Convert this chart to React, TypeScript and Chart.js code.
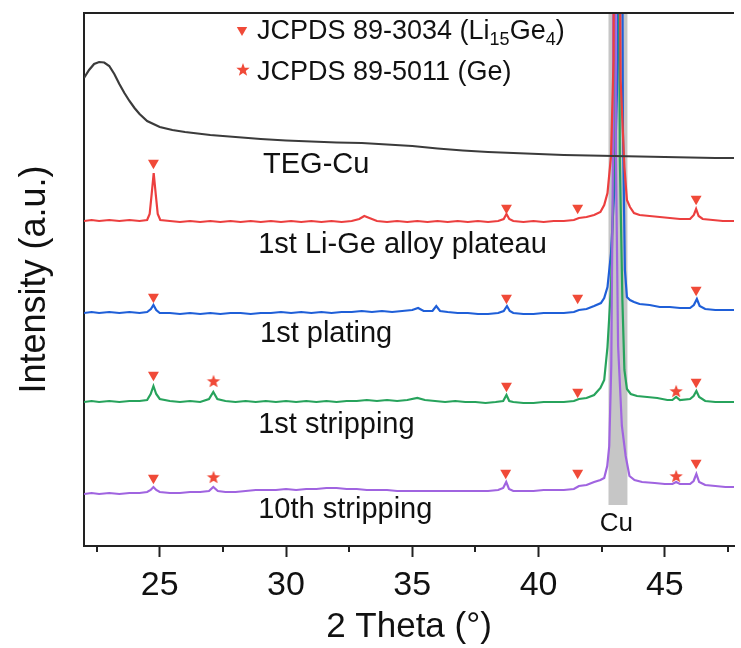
import React, { useEffect, useRef } from 'react';
import { Chart, registerables } from 'chart.js';

Chart.register(...registerables);

const FONT = "'Liberation Sans', Arial, Helvetica, sans-serif";

const X_MIN = 22;
const X_MAX = 47.74;
const Y_MIN = 0;
const Y_MAX = 533;
const MAJOR_TICKS = [25, 30, 35, 40, 45];
const MINOR_TICKS = [22.5, 27.5, 32.5, 37.5, 42.5, 47.5];

// Cu reference band (2θ range) and the intensity where it ends
const CU_BAND = [42.77, 43.52];
const CU_BAND_BASE = 41;

// [2θ, intensity]
const tegCu = [
  [22.0, 468], [22.2, 476], [22.4, 482], [22.6, 484], [22.8, 483.5], [23.0, 480], [23.2, 472], [23.4, 462],
  [23.6, 453], [23.8, 445], [24.0, 438], [24.2, 432], [24.5, 425], [25.0, 419], [25.5, 416], [26, 414],
  [27, 411], [28, 409], [29, 407], [30, 405.5], [31, 404.5], [32, 403.5], [33, 403], [34, 401.5], [35, 400],
  [36, 397.5], [37, 395.5], [38, 394], [39, 393], [40, 392], [41, 391], [42, 390.5], [43, 390], [44, 389.5],
  [45, 389], [46, 388.5], [47, 388], [47.74, 388],
];

const liGePlateau = [
  [22.0, 325], [22.3, 326], [22.6, 325], [23.0, 326], [23.4, 325], [23.8, 326], [24.2, 325], [24.5, 326],
  [24.6, 332], [24.68, 352], [24.76, 373], [24.84, 352], [24.92, 332], [25.02, 326], [25.4, 325], [25.8, 324],
  [26.2, 325], [26.6, 324], [27.0, 325], [27.4, 324], [27.8, 325], [28.2, 324], [28.6, 325], [29.0, 324],
  [29.4, 325], [29.8, 324], [30.2, 325], [30.6, 324], [31.0, 325], [31.4, 324], [31.8, 325], [32.2, 324],
  [32.6, 325], [32.9, 327], [33.1, 330], [33.3, 328], [33.6, 325], [34.0, 324], [34.4, 325], [34.8, 324],
  [35.2, 325], [35.6, 324], [36.0, 325], [36.4, 324], [36.8, 325], [37.2, 324], [37.6, 325], [38.0, 324],
  [38.4, 325], [38.62, 327], [38.73, 332], [38.84, 327], [39.0, 325], [39.4, 324], [39.8, 325], [40.2, 324],
  [40.6, 325], [41.0, 325], [41.4, 326], [41.6, 328], [41.9, 329], [42.2, 331], [42.45, 334], [42.6, 341],
  [42.73, 353], [42.87, 390], [42.97, 486], [43.05, 1200], [43.25, 466], [43.4, 379], [43.5, 346],
  [43.62, 339], [43.78, 333], [44.0, 331], [44.4, 330], [44.8, 329], [45.2, 328], [45.6, 327], [46.0, 327],
  [46.15, 331], [46.24, 337], [46.34, 330], [46.5, 327], [46.9, 326], [47.3, 325], [47.74, 325],
];

const plating1 = [
  [22.0, 233], [22.3, 234], [22.6, 233], [23.0, 234], [23.4, 233], [23.8, 234], [24.2, 233], [24.5, 234],
  [24.65, 237], [24.75, 241], [24.86, 236], [25.0, 233], [25.4, 233], [25.8, 232], [26.2, 233], [26.6, 232],
  [27.0, 233], [27.4, 232], [27.8, 233], [28.2, 233], [28.6, 232], [29.0, 233], [29.4, 233], [29.8, 234],
  [30.2, 233], [30.6, 234], [31.0, 233], [31.4, 234], [31.8, 233], [32.2, 234], [32.6, 234], [33.0, 235],
  [33.4, 234], [33.8, 235], [34.2, 234], [34.6, 235], [35.0, 236], [35.23, 238], [35.45, 235], [35.8, 235],
  [35.95, 240], [36.1, 235], [36.4, 234], [36.8, 233], [37.2, 233], [37.6, 232], [38.0, 232], [38.4, 233],
  [38.62, 235], [38.75, 240], [38.86, 235], [39.0, 233], [39.4, 232], [39.8, 232], [40.2, 233], [40.6, 233],
  [41.0, 233], [41.4, 234], [41.6, 236], [41.9, 237], [42.2, 240], [42.47, 243], [42.6, 248], [42.73, 259],
  [42.87, 293], [43.0, 356], [43.14, 486], [43.25, 1200], [43.34, 420], [43.42, 276], [43.5, 249],
  [43.62, 246], [43.78, 244], [44.0, 242], [44.4, 241], [44.8, 239], [45.2, 239], [45.6, 238], [46.0, 238],
  [46.15, 241], [46.27, 247], [46.38, 240], [46.6, 237], [47.0, 236], [47.4, 236], [47.74, 236],
];

const stripping1 = [
  [22.0, 144], [22.3, 145], [22.6, 144], [23.0, 145], [23.4, 144], [23.8, 145], [24.2, 145], [24.5, 146],
  [24.64, 152], [24.75, 160], [24.86, 152], [25.0, 147], [25.4, 145], [25.8, 144], [26.2, 145], [26.6, 144],
  [26.95, 147], [27.12, 154], [27.28, 147], [27.6, 145], [28.0, 144], [28.4, 145], [28.8, 144], [29.2, 145],
  [29.6, 144], [30.0, 145], [30.4, 144], [30.8, 145], [31.2, 144], [31.6, 145], [32.0, 144], [32.4, 145],
  [32.8, 145], [33.2, 146], [33.6, 145], [34.0, 146], [34.4, 145], [34.8, 146], [35.2, 148], [35.5, 146],
  [35.9, 145], [36.3, 144], [36.7, 145], [37.1, 144], [37.5, 144], [37.9, 143], [38.3, 144], [38.6, 145],
  [38.73, 151], [38.84, 145], [39.0, 144], [39.4, 143], [39.8, 143], [40.2, 144], [40.6, 144], [41.0, 144],
  [41.4, 145], [41.6, 147], [41.9, 148], [42.2, 151], [42.45, 158], [42.6, 166], [42.73, 199], [42.87, 259],
  [42.97, 366], [43.1, 1200], [43.22, 386], [43.32, 246], [43.4, 176], [43.5, 157], [43.65, 152],
  [43.9, 150], [44.3, 149], [44.7, 148], [45.1, 146], [45.3, 146], [45.45, 149], [45.6, 146], [46.0, 147],
  [46.14, 150], [46.25, 155], [46.36, 149], [46.6, 145], [47.0, 144], [47.4, 144], [47.74, 144],
];

const stripping10 = [
  [22.0, 52], [22.3, 53], [22.6, 52], [23.0, 53], [23.4, 52], [23.8, 53], [24.2, 53], [24.5, 54],
  [24.64, 56], [24.75, 59], [24.86, 56], [25.0, 54], [25.4, 53], [25.8, 53], [26.2, 54], [26.6, 54],
  [26.95, 55], [27.12, 59], [27.3, 55], [27.6, 54], [28.0, 54], [28.4, 55], [28.8, 56], [29.2, 56],
  [29.6, 56], [30.0, 57], [30.4, 56], [30.8, 57], [31.2, 57], [31.6, 58], [32.0, 58], [32.4, 57],
  [32.8, 57], [33.2, 56], [33.6, 56], [34.0, 56], [34.4, 55], [34.8, 55], [35.2, 55], [35.6, 55],
  [36.0, 55], [36.4, 55], [36.8, 55], [37.2, 55], [37.6, 55], [38.0, 55], [38.4, 56], [38.6, 58],
  [38.72, 64], [38.83, 57], [39.0, 55], [39.4, 55], [39.8, 55], [40.2, 56], [40.6, 56], [41.0, 56],
  [41.4, 57], [41.6, 60], [41.9, 61], [42.2, 64], [42.45, 66], [42.6, 68], [42.72, 80], [42.8, 100],
  [42.88, 180], [42.95, 400], [43.0, 1200], [43.06, 400], [43.15, 200], [43.3, 120], [43.45, 90],
  [43.6, 70], [43.8, 66], [44.1, 64], [44.6, 63], [45.0, 62], [45.3, 62], [45.45, 64], [45.6, 62],
  [46.0, 62], [46.14, 65], [46.25, 72], [46.36, 64], [46.6, 61], [47.0, 60], [47.4, 59], [47.74, 59],
];

// reflection markers [2θ, intensity]
const li15ge4Marks = [
  [24.75, 383], [38.73, 338], [41.55, 338], [46.24, 347],
  [24.75, 249], [38.73, 248], [41.55, 248], [46.24, 256],
  [24.75, 171], [38.73, 160], [41.55, 154], [46.24, 164],
  [24.75, 68], [38.7, 73], [41.55, 73], [46.24, 83],
];
const geMarks = [
  [27.13, 165], [45.45, 155],
  [27.13, 69], [45.45, 70],
];

// curve labels: [text, 2θ (left edge), intensity]
const CURVE_LABELS: [string, number, number][] = [
  ['TEG-Cu', 29.09, 381],
  ['1st Li-Ge alloy plateau', 28.9, 301],
  ['1st plating', 28.97, 212],
  ['1st stripping', 28.9, 121],
  ['10th stripping', 28.9, 36],
];
const CU_LABEL: [string, number, number] = ['Cu', 43.08, 22];

const LEGEND_1 = ['JCPDS 89-3034 (Li', '15', 'Ge', '4', ')'];
const LEGEND_2 = 'JCPDS 89-5011 (Ge)';

const COLORS = {
  black: '#3b3b3b',
  red: '#ec3f3f',
  blue: '#1f5fd8',
  green: '#27a35c',
  purple: '#a064e0',
  mark: '#f04a38',
  band: '#c6c6c6',
  axis: '#222222',
  text: '#111111',
};

const toXY = (arr: number[][]) => arr.map(([x, y]) => ({ x, y }));

function starPath(ctx: CanvasRenderingContext2D, cx: number, cy: number, ro: number, ri: number) {
  ctx.beginPath();
  for (let i = 0; i < 10; i++) {
    const r = i % 2 === 0 ? ro : ri;
    const a = -Math.PI / 2 + (i * Math.PI) / 5;
    const px = cx + r * Math.cos(a);
    const py = cy + r * Math.sin(a);
    if (i === 0) ctx.moveTo(px, py);
    else ctx.lineTo(px, py);
  }
  ctx.closePath();
}

function triDownPath(ctx: CanvasRenderingContext2D, cx: number, cy: number, r: number) {
  ctx.beginPath();
  for (let i = 0; i < 3; i++) {
    const a = Math.PI + (i * 2 * Math.PI) / 3;
    const px = cx + Math.sin(a) * r;
    const py = cy - Math.cos(a) * r;
    if (i === 0) ctx.moveTo(px, py);
    else ctx.lineTo(px, py);
  }
  ctx.closePath();
}

function makeStar(ro: number, color: string) {
  const c = document.createElement('canvas');
  const s = Math.ceil(ro * 2 + 2);
  c.width = s;
  c.height = s;
  const ctx = c.getContext('2d')!;
  starPath(ctx, s / 2, s / 2 + ro * 0.1, ro, ro * 0.42);
  ctx.fillStyle = color;
  ctx.fill();
  return c;
}

export default function App() {
  const ref = useRef<HTMLCanvasElement | null>(null);

  useEffect(() => {
    if (!ref.current) return;
    const star = makeStar(7, COLORS.mark);

    const decor = {
      id: 'decor',
      beforeDatasetsDraw(chart: any) {
        const { ctx, chartArea, scales } = chart;
        const x0 = scales.x.getPixelForValue(CU_BAND[0]);
        const x1 = scales.x.getPixelForValue(CU_BAND[1]);
        const yb = scales.y.getPixelForValue(CU_BAND_BASE);
        ctx.save();
        ctx.fillStyle = COLORS.band;
        ctx.fillRect(x0, chartArea.top, x1 - x0, yb - chartArea.top);
        ctx.restore();
      },
      afterDraw(chart: any) {
        const { ctx, chartArea, scales } = chart;
        ctx.save();
        // top frame line
        ctx.strokeStyle = COLORS.axis;
        ctx.lineWidth = 2;
        ctx.beginPath();
        ctx.moveTo(chartArea.left - 1, chartArea.top);
        ctx.lineTo(chartArea.right, chartArea.top);
        ctx.stroke();
        // minor ticks
        ctx.lineWidth = 2;
        MINOR_TICKS.forEach((v) => {
          const px = Math.round(scales.x.getPixelForValue(v));
          ctx.beginPath();
          ctx.moveTo(px, chartArea.bottom);
          ctx.lineTo(px, chartArea.bottom + 6);
          ctx.stroke();
        });
        // curve labels
        ctx.fillStyle = COLORS.text;
        ctx.textBaseline = 'middle';
        ctx.textAlign = 'left';
        ctx.font = `29px ${FONT}`;
        CURVE_LABELS.forEach(([t, x, y]) => {
          ctx.fillText(t, scales.x.getPixelForValue(x), scales.y.getPixelForValue(y));
        });
        ctx.textAlign = 'center';
        ctx.font = `26px ${FONT}`;
        ctx.fillText(CU_LABEL[0], scales.x.getPixelForValue(CU_LABEL[1]), scales.y.getPixelForValue(CU_LABEL[2]));
        // legend
        const lx = chartArea.left + 158;
        const tx = chartArea.left + 173;
        const r1 = chartArea.top + 17;
        const r2 = chartArea.top + 58;
        ctx.fillStyle = COLORS.mark;
        triDownPath(ctx, lx, r1, 6);
        ctx.fill();
        starPath(ctx, lx + 1, r2 - 1, 7, 2.9);
        ctx.fill();
        ctx.fillStyle = COLORS.text;
        ctx.textAlign = 'left';
        let cx = tx;
        const mainF = `27px ${FONT}`;
        const subF = `18px ${FONT}`;
        LEGEND_1.forEach((seg, i) => {
          const sub = i === 1 || i === 3;
          ctx.font = sub ? subF : mainF;
          ctx.fillText(seg, cx, r1 + 2 + (sub ? 8 : 0));
          cx += ctx.measureText(seg).width;
        });
        ctx.font = mainF;
        ctx.fillText(LEGEND_2, tx, r2 + 2);
        ctx.restore();
      },
    };

    const line = (data: number[][], color: string) => ({
      type: 'line' as const,
      data: toXY(data),
      borderColor: color,
      borderWidth: 2.2,
      pointRadius: 0,
      tension: 0,
      clip: 0,
    });

    const chart = new Chart(ref.current, {
      type: 'line',
      data: {
        datasets: [
          line(tegCu, COLORS.black),
          line(liGePlateau, COLORS.red),
          line(stripping10, COLORS.purple),
          line(stripping1, COLORS.green),
          line(plating1, COLORS.blue),
          {
            type: 'line',
            data: toXY(li15ge4Marks),
            showLine: false,
            pointStyle: 'triangle',
            pointRotation: 180,
            pointRadius: 6.3,
            pointBackgroundColor: COLORS.mark,
            pointBorderWidth: 0,
            borderWidth: 0,
            clip: false,
          } as any,
          {
            type: 'line',
            data: toXY(geMarks),
            showLine: false,
            pointStyle: star,
            pointRadius: 7,
            pointBackgroundColor: COLORS.mark,
            pointBorderWidth: 0,
            borderWidth: 0,
            clip: false,
          } as any,
        ],
      },
      options: {
        animation: false,
        responsive: true,
        maintainAspectRatio: false,
        layout: { padding: { top: 13, right: 0, left: 0, bottom: 0 } },
        plugins: { legend: { display: false }, tooltip: { enabled: false } },
        scales: {
          x: {
            type: 'linear',
            min: X_MIN,
            max: X_MAX,
            afterBuildTicks: (s: any) => {
              s.ticks = MAJOR_TICKS.map((v) => ({ value: v }));
            },
            afterFit: (s: any) => {
              s.height = 102;
            },
            grid: {
              display: true,
              drawOnChartArea: false,
              drawTicks: true,
              tickLength: 11,
              tickWidth: 2,
              tickColor: COLORS.axis,
            },
            border: { display: true, color: COLORS.axis, width: 2 },
            ticks: {
              font: { size: 34, family: FONT },
              color: COLORS.text,
              padding: 8,
              maxRotation: 0,
              autoSkip: false,
              callback: (v: any) => String(v),
            },
            title: {
              display: true,
              text: '2 Theta (°)',
              font: { size: 35, family: FONT },
              color: COLORS.text,
              padding: { top: 0, bottom: 0 },
            },
          },
          y: {
            type: 'linear',
            min: Y_MIN,
            max: Y_MAX,
            afterFit: (s: any) => {
              s.width = 84;
            },
            grid: { display: false },
            border: { display: true, color: COLORS.axis, width: 2 },
            ticks: { display: false },
            title: {
              display: true,
              text: 'Intensity (a.u.)',
              font: { size: 36, family: FONT },
              color: COLORS.text,
              padding: { top: 13, bottom: 0 },
            },
          },
        },
      } as any,
      plugins: [decor],
    });
    return () => chart.destroy();
  }, []);

  return (
    <div style={{ position: 'fixed', left: 0, top: 0, width: 741, height: 648, background: '#fff' }}>
      <canvas ref={ref} />
    </div>
  );
}
